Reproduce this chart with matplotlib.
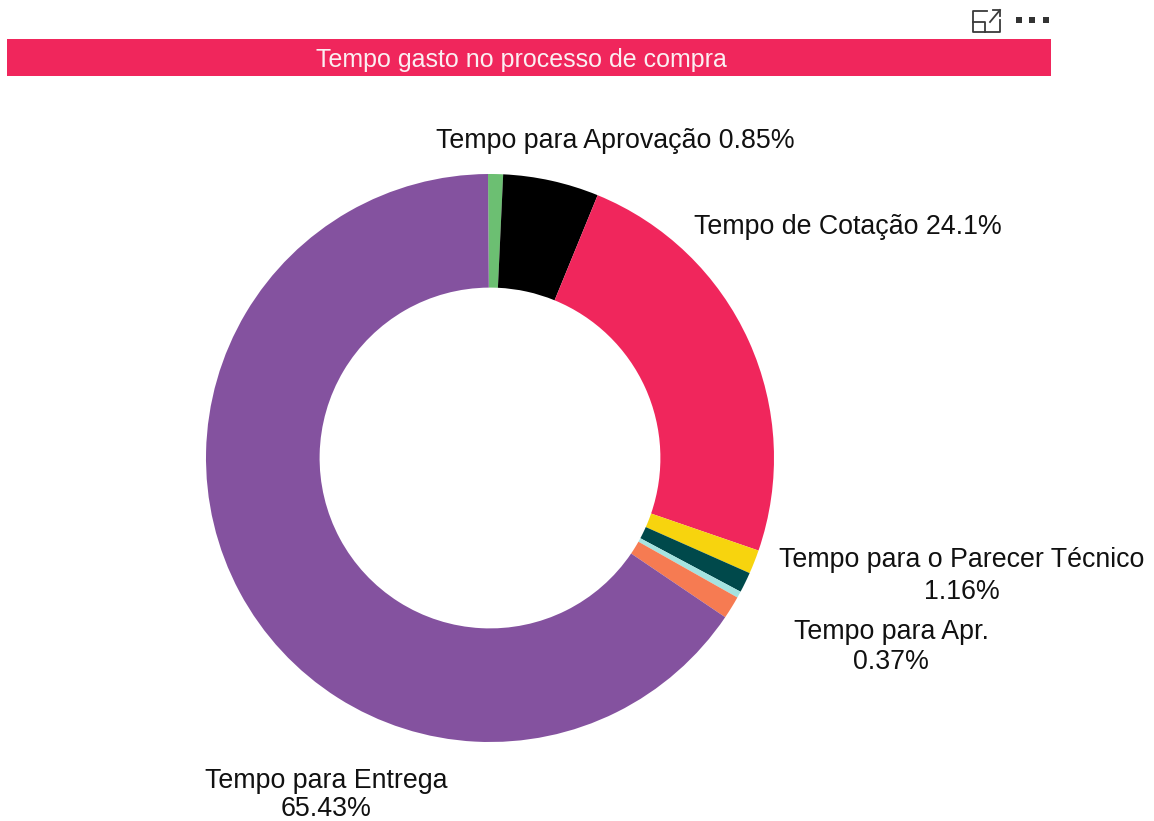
import matplotlib
matplotlib.use("Agg")
import matplotlib.pyplot as plt
from matplotlib.patches import Rectangle

# --- dados ---
SLICE_NAMES = ["Aprovação", "Sem nome", "Cotação", "Outro", "Parecer Técnico", "Apr.", "Outro 2", "Entrega"]
SLICE_VALUES = [0.85, 5.45, 24.10, 1.36, 1.16, 0.37, 1.30, 65.43]
SLICE_COLORS = ["#6CBF72", "#000000", "#F0265C", "#F7D40E", "#00494B", "#A5E3E0", "#F67B52", "#84529F"]

TITLE = "Tempo gasto no processo de compra"
LABELS = ["Tempo para Aprovação 0.85%", "Tempo de Cotação 24.1%",
          "Tempo para o Parecer Técnico\n1.16%", "Tempo para Apr.\n0.37%",
          "Tempo para Entrega\n65.43%"]
LABEL_POS = [(615, 141), (848, 227), (962, 576), (891, 647), (326, 795)]
# a última etiqueta fica encostada ao fundo da imagem, por isso tem linhas mais juntas
LABEL_SPACING = [1.2, 1.2, 1.27, 1.2, 1.12]

W, H = 1154, 821
CX, CY, R = 490, 458, 284

plt.rcParams["font.family"] = ["Liberation Sans", "DejaVu Sans"]

fig = plt.figure(figsize=(W / 100, H / 100), dpi=100)

# camada em pixels para a faixa, os textos e o ícone
bg = fig.add_axes([0, 0, 1, 1])
bg.set_xlim(0, W)
bg.set_ylim(H, 0)
bg.axis("off")

bg.add_patch(Rectangle((7, 39), 1044, 37, color="#F0265C", lw=0))
bg.text(521, 60, TITLE, color="#FBEFF2", fontsize=18, ha="center", va="center")

for txt, (x, y), sp in zip(LABELS, LABEL_POS, LABEL_SPACING):
    bg.text(x, y, txt, color="#111111", fontsize=19.3, ha="center", va="center", linespacing=sp)

# ícone de expandir e reticências
icon = "#3a3a3a"
bg.plot([987, 973, 973, 1000, 1000], [11, 11, 32, 32, 20], color=icon, lw=1.3)
bg.plot([973, 985, 985], [22, 22, 32], color=icon, lw=1.3)
bg.plot([990, 1000], [22, 10], color=icon, lw=1.3)
bg.plot([993, 1000, 1000], [10, 10, 16], color=icon, lw=1.3)
bg.scatter([1019, 1032, 1046], [20, 20, 20], s=18, marker="s", color="#333333", lw=0)

# donut
ax = fig.add_axes([(CX - R) / W, 1 - (CY + R) / H, 2 * R / W, 2 * R / H])
ax.pie(SLICE_VALUES, colors=SLICE_COLORS, startangle=90.4, counterclock=False, radius=1,
       wedgeprops={"width": 0.4, "linewidth": 0})
ax.set_xlim(-1, 1)
ax.set_ylim(-1, 1)
ax.set_aspect("equal")

fig.savefig("out.png", dpi=100)
